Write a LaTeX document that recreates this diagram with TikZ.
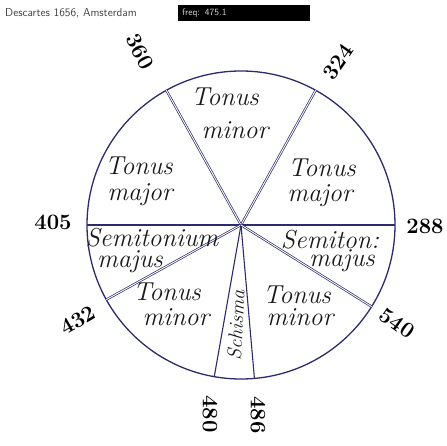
\documentclass[tikz,border=0pt]{standalone}
\usepackage{tikz}
\usetikzlibrary{calc}
\definecolor{ink}{HTML}{2B2B6E}

\begin{document}
\begin{tikzpicture}[x=1pt, y=1pt,
  disc/.style={circle, draw=ink, line width=1.3pt, minimum size=308pt, inner sep=0pt, outer sep=0pt},
  spoke/.style={draw=ink, line width=1.1pt},
  dspoke/.style={draw=ink, line width=0.7pt, double=white, double distance=0.9pt},
  num/.style={font=\bfseries\fontsize{22}{22}\selectfont, inner sep=0pt},
  word/.style={font=\fontsize{26}{26}\selectfont\itshape, inner sep=0pt, text=black!90}
]
\useasboundingbox (-241,225) rectangle (205,-221);

% header
\node[anchor=west, font=\sffamily\fontsize{11.5}{11.5}\selectfont, text=black!75, inner sep=0pt] (src) at (-236,212) {Descartes 1656, Amsterdam};
\node[anchor=west, fill=black, text=black!15, font=\sffamily\fontsize{9.5}{9.5}\selectfont, minimum width=132pt, minimum height=16pt, text width=124pt, inner sep=4pt] (freq) at (-63,212) {freq: 475.1};

% the wheel
\node[disc] (w) at (0,0) {};
\coordinate (c) at (0,0);
\draw[spoke] (c) -- (w.0);
\draw[dspoke] (c) -- (w.61);
\draw[dspoke] (c) -- (w.119);
\draw[spoke] (c) -- (w.180);
\draw[dspoke] (c) -- (w.209);
\draw[spoke] (c) -- (w.260);
\draw[spoke] (c) -- (w.275);
\draw[dspoke] (c) -- (w.328);

% string lengths
\node[num] (n288) at (184,-1) {288};
\node[num, rotate=55] (n324) at (97,163) {324};
\node[num, rotate=-62] (n360) at (-101,173) {360};
\node[num] (n405) at (-188,3) {405};
\node[num, rotate=30] (n432) at (-163,-95) {432};
\node[num, rotate=-90] (n480) at (-31,-189) {480};
\node[num, rotate=-90] (n486) at (17,-190) {486};
\node[num, rotate=-35] (n540) at (156,-98) {540};

% intervals
\node[word] (tmi1) at (-16,128) {Tonus};
\node[word] (tmi2) at (-6,95) {minor};
\node[word] (tml1) at (-102,59) {Tonus};
\node[word] (tml2) at (-101,30) {major};
\node[word] (tmr1) at (81,57) {Tonus};
\node[word] (tmr2) at (79,29) {major};
\node[word] (sml1) at (-89,-13) {Semitonium};
\node[word] (sml2) at (-111,-37) {majus};
\node[word] (smr1) at (89,-15) {Semiton:};
\node[word] (smr2) at (101,-36) {majus};
\node[word] (tnl1) at (-74,-67) {Tonus};
\node[word] (tnl2) at (-65,-92) {minor};
\node[word] (tnr1) at (56,-70) {Tonus};
\node[word] (tnr2) at (59,-92) {minor};
\node[word, font=\fontsize{20}{20}\selectfont\itshape, rotate=87] (schisma) at (-5,-100) {Schisma};
\end{tikzpicture}
\end{document}
